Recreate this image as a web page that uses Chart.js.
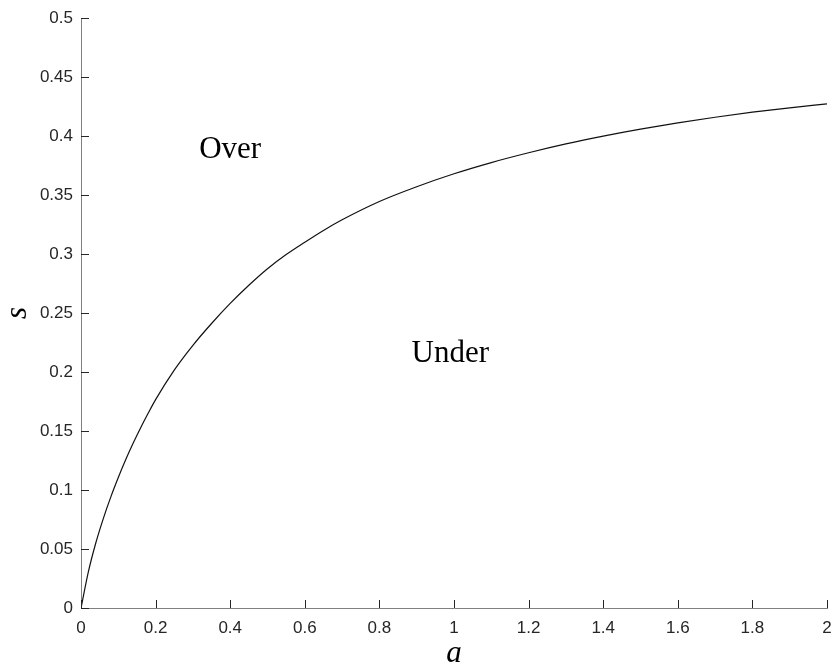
<!DOCTYPE html>
<html>
<head>
<meta charset="utf-8">
<script src="https://cdn.jsdelivr.net/npm/chart.js@4"></script>
<style>
  html, body { margin: 0; padding: 0; background: #fff; }
  #wrap { width: 834px; height: 671px; }
</style>
</head>
<body>
<div id="wrap"><canvas id="chart"></canvas></div>
<script>
  // boundary curve s(a)
  const aVals = [0, 0.02, 0.04, 0.06, 0.08, 0.1, 0.12, 0.14, 0.16, 0.18, 0.2, 0.25, 0.3, 0.35, 0.4, 0.45, 0.5, 0.55,
                 0.6, 0.65, 0.7, 0.8, 0.9, 1.0, 1.1, 1.2, 1.3, 1.4, 1.5, 1.6, 1.7, 1.8, 1.9, 2.0];
  const sVals = [0, 0.031, 0.0555, 0.076, 0.0942, 0.1106, 0.1258, 0.1398, 0.1528, 0.165, 0.1766, 0.2016, 0.2226, 0.2411, 0.2581, 0.2735, 0.2875, 0.2995,
                 0.310, 0.320, 0.329, 0.3445, 0.357, 0.368, 0.3775, 0.3858, 0.3933, 0.3999, 0.4058, 0.4111, 0.4159, 0.4202, 0.4239, 0.4272];
  const xTicks = [0, 0.2, 0.4, 0.6, 0.8, 1, 1.2, 1.4, 1.6, 1.8, 2];
  const yTicks = [0, 0.05, 0.1, 0.15, 0.2, 0.25, 0.3, 0.35, 0.4, 0.45, 0.5];
  const regionLabels = ['Over', 'Under'];
  const regionA = [0.40, 0.99];
  const regionS = [0.388, 0.215];

  const serif = '"Liberation Serif", "DejaVu Serif", serif';
  const sans = '"Liberation Sans", Arial, sans-serif';
  const fmt = v => String(+Number(v).toFixed(2));

  // MATLAB-style inward ticks, region labels and axis titles
  const extras = {
    id: 'extras',
    afterDraw(chart) {
      const { ctx, chartArea: ca, scales: { x, y } } = chart;
      ctx.save();
      ctx.strokeStyle = '#262626';
      ctx.lineWidth = 1;
      ctx.beginPath();
      xTicks.forEach(v => {
        const px = Math.round(x.getPixelForValue(v)) + 0.5;
        ctx.moveTo(px, ca.bottom);
        ctx.lineTo(px, ca.bottom - 8);
      });
      yTicks.forEach(v => {
        const py = Math.round(y.getPixelForValue(v)) + 0.5;
        ctx.moveTo(ca.left, py);
        ctx.lineTo(ca.left + 8, py);
      });
      ctx.stroke();

      ctx.fillStyle = '#000';
      ctx.textAlign = 'center';
      ctx.textBaseline = 'middle';
      ctx.font = '31px ' + serif;
      regionLabels.forEach((t, i) => {
        ctx.fillText(t, x.getPixelForValue(regionA[i]), y.getPixelForValue(regionS[i]));
      });

      ctx.font = 'italic 31px ' + serif;
      ctx.fillText('a', (ca.left + ca.right) / 2, 654);
      ctx.save();
      ctx.translate(18, (ca.top + ca.bottom) / 2);
      ctx.rotate(-Math.PI / 2);
      ctx.fillText('s', 0, 0);
      ctx.restore();
      ctx.restore();
    }
  };

  new Chart(document.getElementById('chart'), {
    type: 'scatter',
    data: {
      datasets: [{
        data: aVals.map((a, i) => ({ x: a, y: sVals[i] })),
        showLine: true,
        borderColor: '#111',
        borderWidth: 1.2,
        pointRadius: 0,
        cubicInterpolationMode: 'monotone'
      }]
    },
    options: {
      responsive: true,
      maintainAspectRatio: false,
      animation: false,
      layout: { padding: { left: 0, right: 7, top: 18, bottom: 0 } },
      plugins: {
        legend: { display: false },
        tooltip: { enabled: false }
      },
      scales: {
        x: {
          type: 'linear',
          min: 0, max: 2,
          afterBuildTicks: s => { s.ticks = xTicks.map(v => ({ value: v })); },
          afterFit: s => { s.height = 63; s.paddingLeft = 0; s.paddingRight = 0; },
          grid: { display: false, drawTicks: false, tickLength: 0 },
          border: { display: true, color: '#808080', width: 1 },
          ticks: { padding: 10, color: '#262626', font: { family: sans, size: 17 }, callback: fmt }
        },
        y: {
          type: 'linear',
          min: 0, max: 0.5,
          afterBuildTicks: s => { s.ticks = yTicks.map(v => ({ value: v })); },
          afterFit: s => { s.width = 81; s.paddingTop = 0; s.paddingBottom = 0; },
          grid: { display: false, drawTicks: false, tickLength: 0 },
          border: { display: true, color: '#808080', width: 1 },
          ticks: { padding: 8, color: '#262626', font: { family: sans, size: 17 }, callback: fmt }
        }
      }
    },
    plugins: [extras]
  });
</script>
</body>
</html>
